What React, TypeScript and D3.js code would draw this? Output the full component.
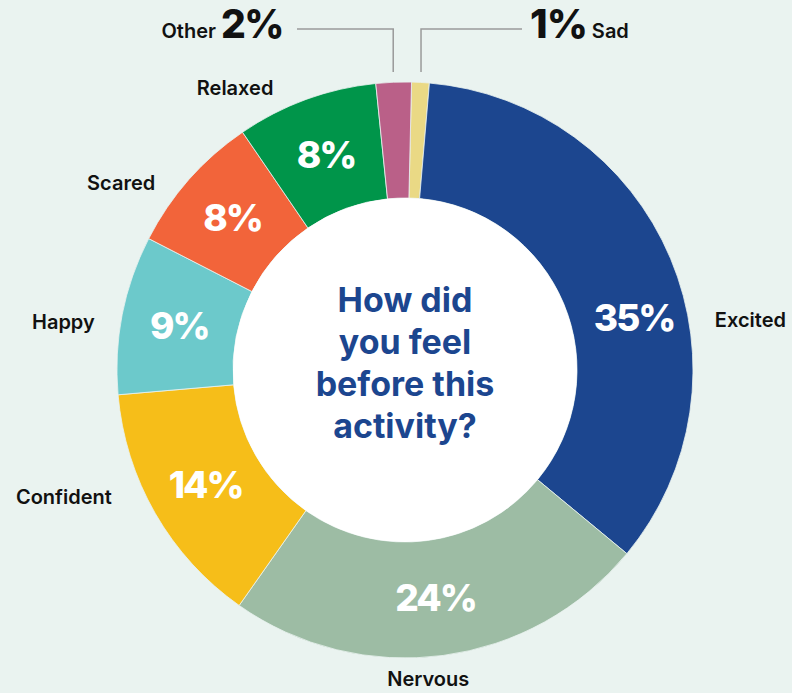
import React from "react";
import * as d3 from "d3";

const categories = ["Sad", "Excited", "Nervous", "Confident", "Happy", "Scared", "Relaxed", "Other"];
const values = [1, 35, 24, 14, 9, 8, 8, 2];
const colors = ["#ead985", "#1c468f", "#9dbca4", "#f6be19", "#6cc9cb", "#f2643a", "#00954a", "#ba6088"];
const titleLines = ["How did", "you feel", "before this", "activity?"];

// layout helpers (polar positions of outside labels: degrees clockwise from top, radius)
const outerLabelLayout: Record<string, [number, number]> = {
  Excited: [81.8, 349],
  Nervous: [175.7, 310],
  Confident: [249.6, 364],
  Happy: [278, 345],
  Scared: [303.4, 340],
  Relaxed: [328.9, 329],
};
// nudge for in-ring percentage labels
const pctNudge: Record<string, [number, number]> = {
  Excited: [17, 36],
};

const W = 792;
const H = 693;
const cx = 405;
const cy = 370;
const R = 288;
const r0 = 172;
const FONT = "Inter, 'Noto Sans', sans-serif";

export default function App() {
  const deg = Math.PI / 180;
  const pie = d3
    .pie<number>()
    .sort(null)
    .value((d) => d)
    .startAngle(1.3 * deg)
    .endAngle(361.3 * deg);
  const arcs = pie(values);
  const arc = d3.arc<d3.PieArcDatum<number>>().innerRadius(r0).outerRadius(R);
  const labelArc = d3.arc<d3.PieArcDatum<number>>().innerRadius(230).outerRadius(230);

  const polar = (a: number, rad: number): [number, number] => [
    Math.sin(a * deg) * rad,
    -Math.cos(a * deg) * rad,
  ];

  const otherIdx = categories.indexOf("Other");
  const sadIdx = categories.indexOf("Sad");
  const otherMid = (arcs[otherIdx].startAngle + arcs[otherIdx].endAngle) / 2;
  const sadMid = (arcs[sadIdx].startAngle + arcs[sadIdx].endAngle) / 2;
  const otherX = cx + Math.sin(otherMid) * (R + 10);
  const sadX = cx + Math.sin(sadMid) * (R + 10);
  const lineTopY = 29;
  const lineBottomY = 72;

  return (
    <div style={{ position: "absolute", left: 0, top: 0, width: W, height: H, background: "#eaf3f0" }}>
      <svg width={W} height={H} style={{ display: "block" }}>
        <rect x={0} y={0} width={W} height={H} fill="#eaf3f0" />
        <g transform={`translate(${cx},${cy})`}>
          {arcs.map((a, i) => (
            <path key={categories[i]} d={arc(a) || ""} fill={colors[i]} stroke="#eaf3f0" strokeWidth={0.8} />
          ))}
          <circle r={r0} fill="#ffffff" />
          {arcs.map((a, i) => {
            const name = categories[i];
            if (name === "Sad" || name === "Other") return null;
            const [x, y] = labelArc.centroid(a);
            const n = pctNudge[name] || [0, 0];
            return (
              <text
                key={"p" + name}
                x={x + n[0]}
                y={y + n[1]}
                textAnchor="middle"
                dominantBaseline="central"
                fill="#ffffff"
                fontFamily={FONT}
                fontWeight={800}
                fontSize={37}
                letterSpacing={-2}
              >
                {values[i]}%
              </text>
            );
          })}
          {categories.map((name) => {
            const l = outerLabelLayout[name];
            if (!l) return null;
            const [x, y] = polar(l[0], l[1]);
            return (
              <text
                key={"c" + name}
                x={x}
                y={y}
                textAnchor="middle"
                dominantBaseline="central"
                fill="#111111"
                fontFamily={FONT}
                fontWeight={600}
                fontSize={20}
              >
                {name}
              </text>
            );
          })}
          <text
            textAnchor="middle"
            fill="#1c468f"
            fontFamily={FONT}
            fontWeight={700}
            fontSize={34}
          >
            {titleLines.map((t, i) => (
              <tspan key={t} x={0} y={-58 + i * 42}>
                {t}
              </tspan>
            ))}
          </text>
        </g>
        {/* leader lines */}
        <polyline
          points={`297,${lineTopY} ${otherX},${lineTopY} ${otherX},${lineBottomY}`}
          fill="none"
          stroke="#9a9a9a"
          strokeWidth={1.5}
        />
        <polyline
          points={`522,${lineTopY} ${sadX},${lineTopY} ${sadX},${lineBottomY}`}
          fill="none"
          stroke="#9a9a9a"
          strokeWidth={1.5}
        />
        <text x={283} y={38} textAnchor="end" fontFamily={FONT} fill="#111111">
          <tspan fontSize={20} fontWeight={600}>Other </tspan>
          <tspan fontSize={39} fontWeight={800} letterSpacing={-1.5}>
            {values[otherIdx]}%
          </tspan>
        </text>
        <text x={530} y={38} textAnchor="start" fontFamily={FONT} fill="#111111">
          <tspan fontSize={40} fontWeight={800} letterSpacing={-1}>
            {values[sadIdx]}%
          </tspan>
          <tspan fontSize={20} fontWeight={600}> Sad</tspan>
        </text>
      </svg>
    </div>
  );
}
